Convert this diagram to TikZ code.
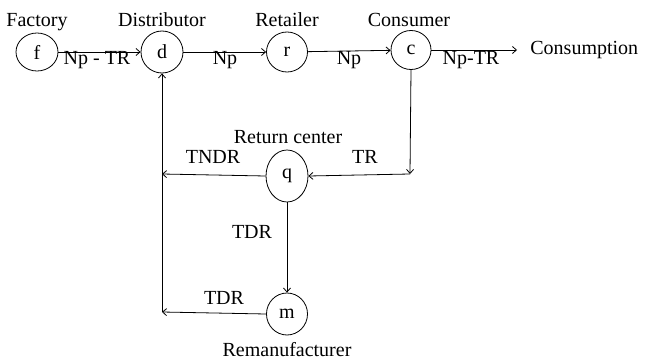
\documentclass[tikz,border=0pt]{standalone}
\usepackage{fontspec}
\setmainfont{Liberation Serif}
\usetikzlibrary{arrows.meta,shapes.geometric}
\begin{document}
\begin{tikzpicture}[x=1pt,y=-1pt,
  font=\fontsize{20}{23}\selectfont,
  every path/.style={line width=0.8pt},
  >={Straight Barb[length=4pt,width=7pt]},
  stage/.style={draw,ellipse,line width=0.8pt,inner sep=0pt,minimum width=#1},
  lbl/.style={anchor=base,inner sep=0pt},
  conn/.style={draw,->}]
\useasboundingbox (0,0) rectangle (645,361);
% stages
\node[stage=42pt,minimum height=38pt] (f) at (37,52) {f};
\node[stage=42pt,minimum height=42pt] (d) at (162,52) {d};
\node[stage=41pt,minimum height=40pt] (r) at (287,52) {r};
\node[stage=40pt,minimum height=39pt] (c) at (411,50) {c};
\node[stage=42pt,minimum height=52pt] (q) at (287,176) {q};
\node[stage=41pt,minimum height=42pt] (m) at (287,314) {m};
% titles
\node[lbl] (tf) at (37,27) {Factory};
\node[lbl] (td) at (162,27) {Distributor};
\node[lbl] (tr) at (287,27) {Retailer};
\node[lbl] (tc) at (409,27) {Consumer};
\node[lbl] (tq) at (288,143) {Return center};
\node[lbl] (tm) at (287,356) {Remanufacturer};
\node[anchor=west,inner sep=0pt] (cons) at (530,50) {Consumption};
% coordinates
\coordinate (cc) at (410,174);
\coordinate (jq) at (162,174);
\coordinate (jm) at (162,312);
\coordinate (ce) at (517,50);
% connectors
\draw[->] (f) -- (d);
\draw[->] (d) -- (r);
\draw[->] (r) -- (c);
\draw[->] (c.east) -- (ce);
\draw[->] (c.south) -- (cc);
\draw[->] (cc) -- (q.east);
\draw[->] (q.west) -- (jq);
\draw[->] (q.south) -- (m.north);
\draw[->] (m.west) -- (jm);
\draw[->] (jm) -- (d.south);
% flow labels
\node[lbl] (l1) at (97,64) {Np - TR};
\node[lbl] (l2) at (225,64) {Np};
\node[lbl] (l3) at (349,64) {Np};
\node[lbl] (l4) at (471,64) {Np-TR};
\node[lbl] (l5) at (213,163) {TNDR};
\node[lbl] (l6) at (365,163) {TR};
\node[lbl] (l7) at (252,238) {TDR};
\node[lbl] (l8) at (224,304) {TDR};
\end{tikzpicture}
\end{document}
